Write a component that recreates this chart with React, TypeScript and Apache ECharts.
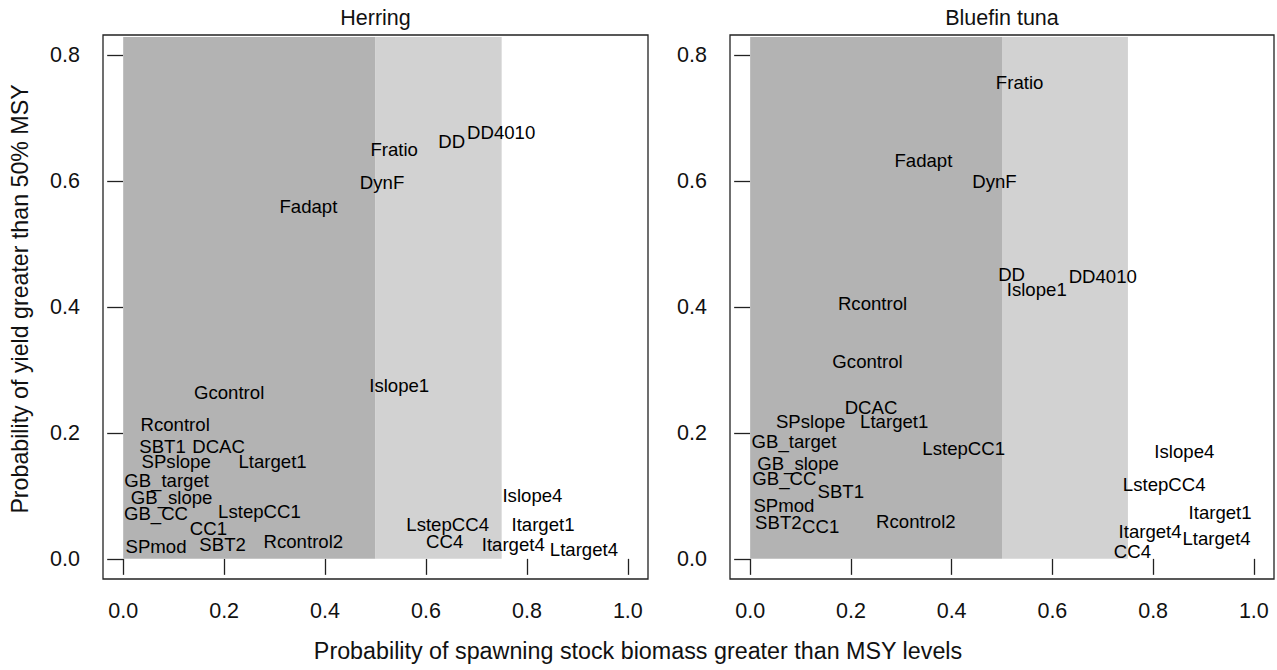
import React, { useEffect, useRef } from "react";
import * as echarts from "echarts";

// ---- data ----
const xTicks = [0, 0.2, 0.4, 0.6, 0.8, 1.0];
const yTicks = [0, 0.2, 0.4, 0.6, 0.8];
const panelTitles = ["Herring", "Bluefin tuna"];
const xTitle = "Probability of spawning stock biomass greater than MSY levels";
const yTitle = "Probability of yield greater than 50% MSY";

// shaded zones on the x axis [from, to]
const zoneFrom = [0, 0.5];
const zoneTo = [0.5, 0.75];
const zoneTop = 0.829;

const herringLabels = [
  "Fratio", "DD", "DD4010", "DynF", "Fadapt", "Gcontrol", "Islope1", "Rcontrol",
  "SBT1", "DCAC", "SPslope", "Ltarget1", "GB_target", "GB_slope", "GB_CC",
  "LstepCC1", "CC1", "SPmod", "SBT2", "Rcontrol2", "Islope4", "LstepCC4",
  "Itarget1", "CC4", "Itarget4", "Ltarget4",
];
const herringX = [
  0.537, 0.651, 0.749, 0.513, 0.367, 0.210, 0.547, 0.103,
  0.078, 0.189, 0.105, 0.296, 0.086, 0.096, 0.065,
  0.270, 0.169, 0.065, 0.197, 0.357, 0.811, 0.643,
  0.832, 0.637, 0.773, 0.913,
];
const herringY = [
  0.650, 0.663, 0.677, 0.598, 0.560, 0.265, 0.276, 0.214,
  0.178, 0.178, 0.154, 0.155, 0.125, 0.098, 0.072,
  0.076, 0.048, 0.019, 0.023, 0.028, 0.100, 0.055,
  0.054, 0.027, 0.023, 0.015,
];

const tunaLabels = [
  "Fratio", "Fadapt", "DynF", "DD", "Islope1", "DD4010", "Rcontrol", "Gcontrol",
  "DCAC", "SPslope", "Ltarget1", "GB_target", "LstepCC1", "GB_slope", "GB_CC",
  "SBT1", "SPmod", "SBT2", "CC1", "Rcontrol2", "Islope4", "LstepCC4",
  "Itarget1", "Itarget4", "Ltarget4", "CC4",
];
const tunaX = [
  0.535, 0.344, 0.485, 0.519, 0.569, 0.700, 0.243, 0.233,
  0.240, 0.120, 0.286, 0.087, 0.424, 0.095, 0.068,
  0.180, 0.067, 0.056, 0.140, 0.329, 0.862, 0.822,
  0.933, 0.794, 0.926, 0.759,
];
const tunaY = [
  0.756, 0.633, 0.600, 0.451, 0.428, 0.448, 0.406, 0.314,
  0.240, 0.218, 0.218, 0.187, 0.175, 0.152, 0.127,
  0.107, 0.084, 0.058, 0.052, 0.059, 0.170, 0.118,
  0.073, 0.044, 0.032, 0.012,
];

const FONT = "'Liberation Sans', Arial, sans-serif";
const zoneColors = ["#B3B3B3", "#D2D2D2"];

export default function App() {
  const ref = useRef<HTMLDivElement>(null);

  useEffect(() => {
    if (!ref.current) return;
    const chart = echarts.init(ref.current, undefined, { renderer: "svg" });

    const grids = [
      { left: 103, top: 35, width: 545, height: 544 },
      { left: 730, top: 35, width: 544, height: 544 },
    ];

    const xAxes = grids.map((_, i) => ({
      type: "value",
      gridIndex: i,
      min: -0.04,
      max: 1.04,
      axisLine: { show: false },
      splitLine: { show: false },
      axisTick: {
        show: true,
        inside: false,
        length: 16,
        customValues: xTicks,
        lineStyle: { color: "#222", width: 1.3 },
      },
      axisLabel: {
        show: true,
        customValues: xTicks,
        margin: 21,
        formatter: (v: number) => v.toFixed(1),
        fontSize: 21.5,
        color: "#111",
        fontFamily: FONT,
      },
    }));

    const yAxes = grids.map((_, i) => ({
      type: "value",
      gridIndex: i,
      min: -0.032,
      max: 0.832,
      axisLine: { show: false },
      splitLine: { show: false },
      axisTick: {
        show: true,
        inside: false,
        length: 16,
        customValues: yTicks,
        lineStyle: { color: "#222", width: 1.3 },
      },
      axisLabel: {
        show: true,
        customValues: yTicks,
        margin: 23,
        formatter: (v: number) => v.toFixed(1),
        fontSize: 21.5,
        color: "#111",
        fontFamily: FONT,
      },
    }));

    const zoneData = zoneFrom.map((f, i) => [f, zoneTo[i]]);

    const panels = [
      { labels: herringLabels, xs: herringX, ys: herringY },
      { labels: tunaLabels, xs: tunaX, ys: tunaY },
    ];

    const series: any[] = [];
    panels.forEach((p, i) => {
      series.push({
        type: "custom",
        xAxisIndex: i,
        yAxisIndex: i,
        z: 1,
        silent: true,
        clip: false,
        encode: { x: [0, 1] },
        data: zoneData,
        renderItem: (params: any, api: any) => {
          const a = api.coord([api.value(0), zoneTop]);
          const b = api.coord([api.value(1), 0]);
          return {
            type: "rect",
            shape: { x: a[0], y: a[1], width: b[0] - a[0], height: b[1] - a[1] },
            style: { fill: zoneColors[params.dataIndex] },
          };
        },
      });
      series.push({
        type: "scatter",
        xAxisIndex: i,
        yAxisIndex: i,
        z: 5,
        silent: true,
        symbolSize: 0,
        itemStyle: { color: "rgba(0,0,0,0)" },
        data: p.xs.map((x, k) => ({ value: [x, p.ys[k]], name: p.labels[k] })),
        label: {
          show: true,
          position: "inside",
          formatter: "{b}",
          color: "#000",
          opacity: 1,
          fontSize: 18.6,
          fontFamily: FONT,
        },
      });
    });

    const graphic: any[] = [
      ...panelTitles.map((t, i) => ({
        type: "text",
        x: grids[i].left + grids[i].width / 2,
        y: 18,
        style: {
          text: t,
          fontSize: 21.5,
          fontFamily: FONT,
          fill: "#111",
          textAlign: "center",
          textVerticalAlign: "middle",
        },
      })),
      {
        type: "text",
        x: 638,
        y: 651,
        style: {
          text: xTitle,
          fontSize: 23.3,
          fontFamily: FONT,
          fill: "#111",
          textAlign: "center",
          textVerticalAlign: "middle",
        },
      },
      {
        type: "text",
        x: 20,
        y: 299,
        rotation: Math.PI / 2,
        style: {
          text: yTitle,
          fontSize: 23.2,
          fontFamily: FONT,
          fill: "#111",
          textAlign: "center",
          textVerticalAlign: "middle",
        },
      },
    ];

    chart.setOption({
      animation: false,
      backgroundColor: "#fff",
      grid: grids.map((g) => ({
        ...g,
        show: true,
        borderColor: "#222",
        borderWidth: 1.3,
        backgroundColor: "transparent",
      })),
      xAxis: xAxes,
      yAxis: yAxes,
      series,
      graphic,
    });

    return () => chart.dispose();
  }, []);

  return (
    <div
      ref={ref}
      style={{ position: "absolute", left: 0, top: 0, width: 1277, height: 670 }}
    />
  );
}
